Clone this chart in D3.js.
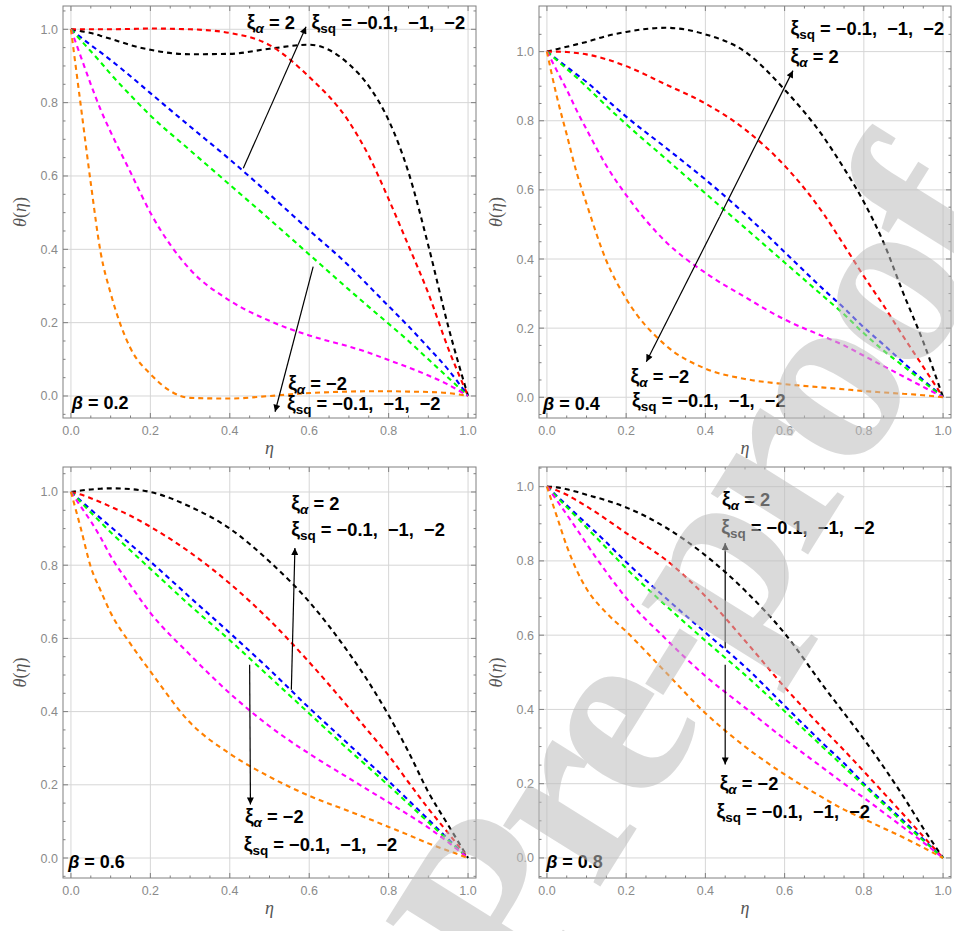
<!DOCTYPE html>
<meta charset="utf-8">
<script src="https://d3js.org/d3.v7.min.js"></script>
<style>
body { margin: 0; background: #fff; }
.lbl { font-family: "Liberation Sans", Arial, sans-serif; font-weight: bold; fill: #000; white-space: pre; }
.tlab { font-family: "Liberation Sans", Arial, sans-serif; font-size: 12.5px; fill: #8a8a8a; }
.alab { font-family: "Liberation Serif", "Times New Roman", serif; font-size: 18px; fill: #555; }
</style>
<div id="chart"></div>
<script>
// eta grid shared by all the curves
var eta = [0, 0.025, 0.05, 0.075, 0.1, 0.15, 0.2, 0.3, 0.4, 0.5, 0.6, 0.7, 0.75, 0.8, 0.85, 0.9, 0.95, 1];

// beta = 0.2
var b2Black   = [1, 0.995, 0.99, 0.982, 0.974, 0.957, 0.944, 0.932, 0.933, 0.947, 0.958, 0.905, 0.845, 0.752, 0.61, 0.41, 0.19, 0];
var b2Red     = [1, 1, 1, 1, 1, 1.001, 1.002, 1.0, 0.99, 0.957, 0.87, 0.748, 0.655, 0.537, 0.41, 0.28, 0.13, 0];
var b2Blue    = [1, 0.978, 0.957, 0.937, 0.916, 0.872, 0.826, 0.735, 0.645, 0.55, 0.452, 0.355, 0.3, 0.245, 0.19, 0.132, 0.072, 0];
var b2Green   = [1, 0.97, 0.94, 0.91, 0.878, 0.82, 0.765, 0.67, 0.576, 0.482, 0.386, 0.29, 0.243, 0.197, 0.15, 0.1, 0.05, 0];
var b2Magenta = [1, 0.925, 0.85, 0.78, 0.72, 0.61, 0.5, 0.345, 0.26, 0.205, 0.165, 0.135, 0.118, 0.098, 0.078, 0.056, 0.031, 0];
var b2Orange  = [1, 0.79, 0.58, 0.39, 0.28, 0.13, 0.06, -0.005, -0.007, 0, 0.008, 0.012, 0.013, 0.013, 0.012, 0.011, 0.008, 0];

// beta = 0.4
var b4Black   = [1, 1.007, 1.014, 1.021, 1.028, 1.045, 1.057, 1.069, 1.05, 1.0, 0.89, 0.75, 0.662, 0.565, 0.447, 0.3, 0.16, 0];
var b4Red     = [1, 1, 0.999, 0.996, 0.992, 0.978, 0.958, 0.905, 0.85, 0.775, 0.67, 0.528, 0.44, 0.35, 0.265, 0.175, 0.088, 0];
var b4Blue    = [1, 0.978, 0.956, 0.934, 0.912, 0.862, 0.812, 0.722, 0.63, 0.53, 0.42, 0.31, 0.258, 0.202, 0.152, 0.1, 0.05, 0];
var b4Green   = [1, 0.975, 0.95, 0.925, 0.898, 0.843, 0.79, 0.69, 0.59, 0.49, 0.39, 0.29, 0.24, 0.185, 0.135, 0.09, 0.045, 0];
var b4Magenta = [1, 0.945, 0.89, 0.83, 0.775, 0.67, 0.585, 0.45, 0.36, 0.29, 0.225, 0.175, 0.15, 0.12, 0.09, 0.06, 0.03, 0];
var b4Orange  = [1, 0.87, 0.76, 0.65, 0.56, 0.395, 0.285, 0.15, 0.083, 0.053, 0.038, 0.028, 0.023, 0.018, 0.014, 0.01, 0.006, 0];

// beta = 0.6
var b6Black   = [1, 1.004, 1.007, 1.009, 1.01, 1.008, 1.0, 0.96, 0.9, 0.81, 0.7, 0.56, 0.48, 0.39, 0.29, 0.18, 0.09, 0];
var b6Red     = [1, 0.993, 0.983, 0.972, 0.96, 0.935, 0.905, 0.835, 0.75, 0.65, 0.535, 0.41, 0.345, 0.28, 0.207, 0.135, 0.068, 0];
var b6Blue    = [1, 0.976, 0.952, 0.928, 0.905, 0.857, 0.81, 0.712, 0.615, 0.515, 0.41, 0.31, 0.26, 0.21, 0.158, 0.105, 0.052, 0];
var b6Green   = [1, 0.972, 0.944, 0.917, 0.89, 0.84, 0.79, 0.69, 0.595, 0.495, 0.395, 0.295, 0.247, 0.198, 0.148, 0.098, 0.048, 0];
var b6Magenta = [1, 0.96, 0.92, 0.875, 0.825, 0.745, 0.67, 0.555, 0.45, 0.36, 0.285, 0.218, 0.185, 0.152, 0.118, 0.083, 0.043, 0];
var b6Orange  = [1, 0.9, 0.795, 0.73, 0.67, 0.585, 0.51, 0.37, 0.285, 0.222, 0.17, 0.128, 0.107, 0.085, 0.063, 0.04, 0.02, 0];

// beta = 0.8
var b8Black   = [1, 0.998, 0.993, 0.986, 0.978, 0.963, 0.944, 0.89, 0.815, 0.72, 0.605, 0.46, 0.39, 0.32, 0.245, 0.165, 0.08, 0];
var b8Red     = [1, 0.99, 0.978, 0.963, 0.947, 0.912, 0.875, 0.803, 0.705, 0.585, 0.46, 0.345, 0.29, 0.233, 0.175, 0.117, 0.058, 0];
var b8Blue    = [1, 0.975, 0.95, 0.925, 0.9, 0.85, 0.797, 0.7, 0.607, 0.515, 0.41, 0.305, 0.255, 0.2, 0.15, 0.1, 0.05, 0];
var b8Green   = [1, 0.972, 0.945, 0.918, 0.89, 0.835, 0.78, 0.68, 0.585, 0.493, 0.395, 0.295, 0.245, 0.195, 0.145, 0.095, 0.047, 0];
var b8Magenta = [1, 0.963, 0.925, 0.886, 0.846, 0.77, 0.7, 0.59, 0.49, 0.405, 0.32, 0.24, 0.2, 0.162, 0.122, 0.082, 0.042, 0];
var b8Orange  = [1, 0.92, 0.84, 0.775, 0.725, 0.66, 0.61, 0.5, 0.39, 0.3, 0.225, 0.16, 0.13, 0.105, 0.08, 0.055, 0.028, 0];

var colors = ["#000000", "#ff0000", "#0000ff", "#00ff00", "#ff00ff", "#ff8000"];
var xTicks = [0, 0.2, 0.4, 0.6, 0.8, 1.0];
var yTicks = [0, 0.2, 0.4, 0.6, 0.8, 1.0];

var vals = " = \u22120.1,  \u22121,  \u22122";

// annotations are placed in data units (eta, theta)
var panels = [
  {beta: "0.2", box: [63, 476, 6, 418], yDom: [-0.06, 1.0635],
   series: [b2Black, b2Red, b2Blue, b2Green, b2Magenta, b2Orange],
   arrows: [[0.434, 0.621, 0.592, 1.007], [0.61, 0.353, 0.514, -0.043]],
   labels: [[0.443, 1.0, "\u03b1", " = 2"], [0.606, 1.0, "sq", vals],
            [0.547, 0.016, "\u03b1", " = \u22122"], [0.544, -0.038, "sq", vals]],
   betaAt: [0.002, -0.036]},
  {beta: "0.4", box: [539, 951, 6, 418], yDom: [-0.06, 1.132],
   series: [b4Black, b4Red, b4Blue, b4Green, b4Magenta, b4Orange],
   arrows: [[0.436, 0.522, 0.621, 0.945], [0.436, 0.522, 0.251, 0.103]],
   labels: [[0.615, 1.049, "sq", vals], [0.615, 0.966, "\u03b1", " = 2"],
            [0.211, 0.04, "\u03b1", " = \u22122"], [0.215, -0.029, "sq", vals]],
   betaAt: [-0.01, -0.037]},
  {beta: "0.6", box: [63, 476, 467, 878], yDom: [-0.0546, 1.0683],
   series: [b6Black, b6Red, b6Blue, b6Green, b6Magenta, b6Orange],
   arrows: [[0.555, 0.46, 0.564, 0.847], [0.45, 0.528, 0.452, 0.146]],
   labels: [[0.555, 0.95, "\u03b1", " = 2"], [0.555, 0.879, "sq", vals],
            [0.438, 0.096, "\u03b1", " = \u22122"], [0.435, 0.018, "sq", vals]],
   betaAt: [-0.007, -0.027]},
  {beta: "0.8", box: [539, 951, 467, 878], yDom: [-0.054, 1.0529],
   series: [b8Black, b8Red, b8Blue, b8Green, b8Magenta, b8Orange],
   arrows: [[0.45, 0.565, 0.45, 0.848], [0.45, 0.52, 0.45, 0.252]],
   labels: [[0.442, 0.947, "\u03b1", " = 2"], [0.44, 0.872, "sq", vals],
            [0.436, 0.184, "\u03b1", " = \u22122"], [0.428, 0.108, "sq", vals]],
   betaAt: [-0.002, -0.027]}
];

var svg = d3.select("#chart").append("svg")
    .attr("width", 954)
    .attr("height", 931)
    .style("background", "#fff");

svg.append("defs").append("marker")
    .attr("id", "head")
    .attr("viewBox", "0 0 10 10")
    .attr("refX", 10).attr("refY", 5)
    .attr("markerWidth", 10).attr("markerHeight", 7)
    .attr("markerUnits", "userSpaceOnUse")
    .attr("orient", "auto")
  .append("path")
    .attr("d", "M0,0L10,5L0,10z")
    .attr("fill", "#000");

var fmt = d3.format(".1f");

panels.forEach(function(p, pi) {
  var x = d3.scaleLinear().domain([-0.02, 1.02]).range([p.box[0], p.box[1]]);
  var y = d3.scaleLinear().domain(p.yDom).range([p.box[3], p.box[2]]);
  var g = svg.append("g");

  g.append("clipPath").attr("id", "clip" + pi)
    .append("rect")
      .attr("x", p.box[0]).attr("y", p.box[2])
      .attr("width", p.box[1] - p.box[0]).attr("height", p.box[3] - p.box[2]);

  // grid
  g.selectAll(".gx").data(xTicks).enter().append("line")
      .attr("x1", d => x(d)).attr("x2", d => x(d))
      .attr("y1", p.box[2]).attr("y2", p.box[3])
      .attr("stroke", "#d6d6d6").attr("stroke-width", 1);
  g.selectAll(".gy").data(yTicks).enter().append("line")
      .attr("x1", p.box[0]).attr("x2", p.box[1])
      .attr("y1", d => y(d)).attr("y2", d => y(d))
      .attr("stroke", "#d6d6d6").attr("stroke-width", 1);

  // curves
  var line = d3.line()
      .x((d, i) => x(eta[i]))
      .y(d => y(d))
      .curve(d3.curveMonotoneX);
  g.append("g").attr("clip-path", "url(#clip" + pi + ")")
    .selectAll("path").data(p.series).enter().append("path")
      .attr("d", line)
      .attr("fill", "none")
      .attr("stroke", (d, i) => colors[i])
      .attr("stroke-width", 2.1)
      .attr("stroke-dasharray", "5 4");

  // frame and ticks on all sides
  var minorX = d3.range(0, 1.0001, 0.05);
  var minorY = d3.range(Math.ceil(p.yDom[0] / 0.05) * 0.05, p.yDom[1], 0.05);
  var isMajor = v => Math.abs(v * 5 - Math.round(v * 5)) < 1e-6;
  var tk = g.append("g").attr("stroke", "#808080").attr("stroke-width", 1);
  minorX.forEach(function(v) {
    var L = isMajor(v) ? 5 : 2.5;
    tk.append("line").attr("x1", x(v)).attr("x2", x(v)).attr("y1", p.box[3]).attr("y2", p.box[3] - L);
    tk.append("line").attr("x1", x(v)).attr("x2", x(v)).attr("y1", p.box[2]).attr("y2", p.box[2] + L);
  });
  minorY.forEach(function(v) {
    var L = isMajor(v) ? 5 : 2.5;
    tk.append("line").attr("y1", y(v)).attr("y2", y(v)).attr("x1", p.box[0]).attr("x2", p.box[0] + L);
    tk.append("line").attr("y1", y(v)).attr("y2", y(v)).attr("x1", p.box[1]).attr("x2", p.box[1] - L);
  });
  g.append("rect")
      .attr("x", p.box[0]).attr("y", p.box[2])
      .attr("width", p.box[1] - p.box[0]).attr("height", p.box[3] - p.box[2])
      .attr("fill", "none").attr("stroke", "#808080").attr("stroke-width", 1);

  g.selectAll(".tx").data(xTicks).enter().append("text")
      .attr("class", "tlab")
      .attr("x", d => x(d)).attr("y", p.box[3] + 17)
      .attr("text-anchor", "middle")
      .text(fmt);
  g.selectAll(".ty").data(yTicks).enter().append("text")
      .attr("class", "tlab")
      .attr("x", p.box[0] - 5).attr("y", d => y(d) + 4.5)
      .attr("text-anchor", "end")
      .text(fmt);

  // axis labels
  g.append("text").attr("class", "alab")
      .attr("x", (x(0) + x(1)) / 2).attr("y", p.box[3] + 36)
      .attr("text-anchor", "middle")
      .style("font-style", "italic")
      .text("\u03b7");
  var yl = g.append("text").attr("class", "alab")
      .attr("transform", "translate(" + (p.box[0] - 37) + "," + ((p.box[2] + p.box[3]) / 2) + ") rotate(-90)")
      .attr("text-anchor", "middle");
  yl.append("tspan").style("font-style", "italic").text("\u03b8");
  yl.append("tspan").text("(");
  yl.append("tspan").style("font-style", "italic").text("\u03b7");
  yl.append("tspan").text(")");

  // arrows
  g.selectAll(".arr").data(p.arrows).enter().append("line")
      .attr("x1", d => x(d[0])).attr("y1", d => y(d[1]))
      .attr("x2", d => x(d[2])).attr("y2", d => y(d[3]))
      .attr("stroke", "#000").attr("stroke-width", 1.2)
      .attr("marker-end", "url(#head)");

  // xi labels
  p.labels.forEach(function(l) {
    var t = g.append("text").attr("class", "lbl").attr("x", x(l[0])).attr("y", y(l[1]));
    t.append("tspan").style("font-size", "19.5px").text("\u03be");
    t.append("tspan").attr("dy", 4).style("font-size", "13.5px")
        .style("font-style", l[2] === "sq" ? "normal" : "italic").text(l[2]);
    t.append("tspan").attr("dy", -4).style("font-size", "18.3px").text(l[3]);
  });

  var bt = g.append("text").attr("class", "lbl")
      .attr("x", x(p.betaAt[0])).attr("y", y(p.betaAt[1]))
      .style("font-size", "18px");
  bt.append("tspan").style("font-style", "italic").text("\u03b2");
  bt.append("tspan").text(" = " + p.beta);
});

// journal watermark over everything
svg.append("text")
    .attr("transform", "translate(1012,228) rotate(-58)")
    .attr("text-anchor", "end")
    .style("font-family", "'Liberation Serif', 'Times New Roman', serif")
    .style("font-weight", "bold")
    .style("font-size", "250px")
    .style("letter-spacing", "-12px")
    .style("fill", "#bdbdbd")
    .style("opacity", 0.55)
    .text("Journal Pre-proof");
</script>
